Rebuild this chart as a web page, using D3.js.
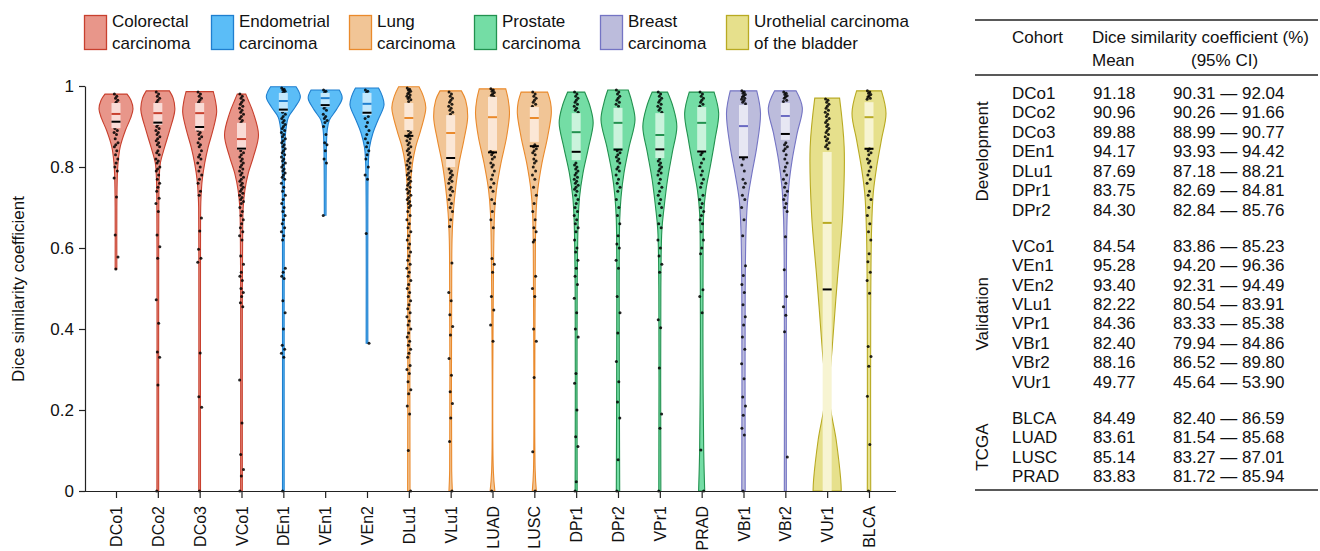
<!DOCTYPE html>
<html>
<head>
<meta charset="utf-8">
<script src="https://cdn.jsdelivr.net/npm/d3@7"></script>
<style>
body { margin: 0; background: #fff; }
svg text { font-family: "Liberation Sans", Arial, sans-serif; fill: #111; }
</style>
</head>
<body>
<div id="chart"></div>
<script>
/*
    Cohorts shown as violins, and the cancer type each belongs to
*/
var cohorts = ["DCo1", "DCo2", "DCo3", "VCo1", "DEn1", "VEn1", "VEn2", "DLu1", "VLu1", "LUAD",
    "LUSC", "DPr1", "DPr2", "VPr1", "PRAD", "VBr1", "VBr2", "VUr1", "BLCA"];
var cohortType = ["Co", "Co", "Co", "Co", "En", "En", "En", "Lu", "Lu", "Lu",
    "Lu", "Pr", "Pr", "Pr", "Pr", "Br", "Br", "Ur", "Ur"];

var typeKeys = ["Co", "En", "Lu", "Pr", "Br", "Ur"];
var typeNames = [["Colorectal", "carcinoma"], ["Endometrial", "carcinoma"], ["Lung", "carcinoma"],
    ["Prostate", "carcinoma"], ["Breast", "carcinoma"], ["Urothelial carcinoma", "of the bladder"]];

/*
*/
var q3 = [0.958, 0.958, 0.958, 0.909, 0.983, 0.983, 0.983, 0.958, 0.928, 0.973,
    0.948, 0.933, 0.946, 0.933, 0.948, 0.953, 0.958, 0.837, 0.960];
var q1 = [0.896, 0.904, 0.890, 0.842, 0.936, 0.948, 0.928, 0.891, 0.800, 0.842,
    0.862, 0.817, 0.847, 0.822, 0.837, 0.825, 0.867, 0.000, 0.849];
var medians = [0.931, 0.933, 0.933, 0.869, 0.963, 0.970, 0.956, 0.921, 0.884, 0.923,
    0.921, 0.886, 0.909, 0.879, 0.909, 0.901, 0.926, 0.662, 0.923];

/*
    Violin outlines: [value, relative half width]
*/
var shapeDCo1 = [[0.548, 0.05], [0.70, 0.05], [0.78, 0.08], [0.81, 0.12], [0.85, 0.25], [0.89, 0.55], [0.92, 0.85], [0.943, 1.0], [0.965, 0.88], [0.98, 0.65]];
var shapeDCo2 = [[0, 0.05], [0.60, 0.05], [0.72, 0.06], [0.768, 0.08], [0.81, 0.15], [0.849, 0.4], [0.891, 0.7], [0.941, 1.0], [0.97, 0.9], [0.988, 0.68]];
var shapeDCo3 = [[0, 0.05], [0.60, 0.05], [0.70, 0.06], [0.726, 0.08], [0.768, 0.15], [0.81, 0.3], [0.849, 0.5], [0.891, 0.78], [0.936, 1.0], [0.965, 0.92], [0.986, 0.8]];
var shapeVCo1 = [[0, 0.05], [0.50, 0.05], [0.65, 0.07], [0.70, 0.1], [0.743, 0.2], [0.785, 0.4], [0.825, 0.7], [0.879, 1.0], [0.933, 0.7], [0.965, 0.4], [0.98, 0.25]];
var shapeDEn1 = [[0, 0.05], [0.60, 0.05], [0.80, 0.06], [0.849, 0.08], [0.891, 0.15], [0.923, 0.3], [0.948, 0.7], [0.973, 1.0], [0.998, 0.75]];
var shapeVEn1 = [[0.681, 0.05], [0.80, 0.06], [0.86, 0.08], [0.891, 0.12], [0.916, 0.25], [0.941, 0.65], [0.970, 1.0], [0.99, 0.83]];
var shapeVEn2 = [[0.365, 0.05], [0.70, 0.05], [0.81, 0.08], [0.849, 0.15], [0.884, 0.35], [0.916, 0.65], [0.953, 1.0], [0.975, 0.9], [0.995, 0.68]];
var shapeDLu1 = [[0, 0.07], [0.50, 0.06], [0.70, 0.08], [0.768, 0.12], [0.81, 0.22], [0.849, 0.4], [0.891, 0.7], [0.946, 1.0], [0.975, 0.85], [0.998, 0.6]];
var shapeVLu1 = [[0, 0.1], [0.05, 0.06], [0.50, 0.06], [0.62, 0.08], [0.686, 0.15], [0.751, 0.3], [0.81, 0.5], [0.867, 0.78], [0.923, 1.0], [0.965, 0.88], [0.988, 0.63]];
var shapeLUAD = [[0, 0.14], [0.05, 0.05], [0.50, 0.05], [0.686, 0.12], [0.743, 0.23], [0.81, 0.5], [0.874, 0.83], [0.933, 1.0], [0.965, 0.93], [0.993, 0.78]];
var shapeLUSC = [[0, 0.12], [0.05, 0.05], [0.50, 0.05], [0.686, 0.1], [0.743, 0.2], [0.81, 0.45], [0.874, 0.78], [0.933, 1.0], [0.96, 0.95], [0.985, 0.78]];
var shapeDPr1 = [[0, 0.06], [0.50, 0.06], [0.669, 0.12], [0.726, 0.2], [0.785, 0.4], [0.849, 0.73], [0.909, 1.0], [0.948, 0.83], [0.985, 0.5]];
var shapeDPr2 = [[0, 0.1], [0.50, 0.07], [0.669, 0.1], [0.726, 0.18], [0.785, 0.35], [0.849, 0.65], [0.916, 1.0], [0.958, 0.83], [0.99, 0.6]];
var shapeVPr1 = [[0, 0.06], [0.50, 0.06], [0.644, 0.12], [0.70, 0.25], [0.768, 0.45], [0.835, 0.73], [0.90, 1.0], [0.948, 0.78], [0.985, 0.45]];
var shapePRAD = [[0, 0.18], [0.10, 0.12], [0.30, 0.08], [0.52, 0.08], [0.686, 0.12], [0.743, 0.25], [0.80, 0.5], [0.867, 0.78], [0.933, 1.0], [0.985, 0.73]];
var shapeVBr1 = [[0, 0.1], [0.50, 0.1], [0.644, 0.15], [0.719, 0.25], [0.785, 0.5], [0.849, 0.78], [0.933, 1.0], [0.988, 0.78]];
var shapeVBr2 = [[0, 0.06], [0.50, 0.06], [0.669, 0.1], [0.751, 0.2], [0.817, 0.4], [0.884, 0.7], [0.946, 1.0], [0.988, 0.63]];
var shapeVUr1 = [[0, 0.83], [0.027, 0.8], [0.126, 0.53], [0.232, 0.12], [0.356, 0.3], [0.521, 0.6], [0.686, 0.92], [0.849, 1.0], [0.97, 0.73]];
var shapeBLCA = [[0, 0.1], [0.44, 0.1], [0.644, 0.15], [0.735, 0.25], [0.80, 0.45], [0.867, 0.73], [0.933, 1.0], [0.988, 0.73]];

/*
    Individual slide scores (%)
*/
var ptsDCo1 = [98, 97.5, 97, 96.5, 96, 95.5, 95, 94.5, 94, 93.5, 93, 92.5, 92, 91.5, 91, 90.5, 90, 89.5, 89, 88.5, 88, 87, 86, 85.5, 85, 84, 83, 82, 81, 80, 79, 77.3, 72.6, 63.2, 57.8, 54.8];
var ptsDCo2 = [98.5, 98, 97.5, 97, 96.5, 96, 95.5, 95, 94.5, 94, 93.5, 93, 92.5, 92, 91.5, 91, 90.5, 90, 89.5, 89, 88.5, 88, 87.5, 87, 86.5, 86, 85.5, 85, 84, 83.5, 83, 82, 81.5, 81, 80, 79.5, 79, 78, 77, 76, 75, 74, 72.3, 71, 69, 63.2, 60.3, 57.5, 47.2, 41.4, 34.3, 33, 26.2, 0];
var ptsDCo3 = [98.5, 98, 97.5, 97, 96.5, 96, 95.5, 95, 94.5, 94, 93.5, 93, 92.5, 92, 91.5, 91, 90.5, 90, 89.5, 89, 88.5, 88, 87.5, 87, 86, 85.5, 85, 84, 83, 82.5, 82, 81, 80, 79, 78, 77, 76, 74, 73, 67.4, 64.2, 59.7, 57.5, 56.5, 34.1, 23.3, 20.7, 0];
var ptsVCo1 = [98, 97.5, 97, 96.5, 96, 95.5, 95, 94.5, 94, 93.5, 93, 92.5, 92, 91.5, 91, 90, 89, 88, 87, 86, 85, 84, 83.5, 83, 82.5, 82, 81.5, 81, 80.5, 80, 79.5, 79, 78.5, 78, 77.5, 77, 76.5, 76, 75.5, 75, 74.5, 74, 73.5, 73, 72.5, 72, 71.5, 71, 70, 69, 68, 67, 66, 65, 64, 63, 62, 58, 56, 54, 53, 52, 50, 49, 48, 46.5, 45.5, 27.4, 16.8, 9, 5.3, 3.7, 0];
var ptsDEn1 = [99.5, 99.2, 99, 98.7, 98.4, 98.1, 96, 95, 94, 93.5, 93, 92.5, 92, 91.5, 91, 90.5, 90, 89.5, 89, 88.5, 88, 87.5, 87, 86.5, 86, 85.5, 85, 84.5, 84, 83.5, 83, 82.5, 82, 81.5, 81, 80.5, 80, 79.5, 79, 78.5, 78, 77.5, 77, 76, 75, 74, 73, 72, 71, 70, 69, 68, 67, 66, 65, 64, 63, 62, 55, 54, 53, 52.5, 47, 44, 40, 36, 35, 34, 33, 0];
var ptsVEn1 = [99, 98.7, 98.4, 96, 95, 94.5, 94, 93, 92.5, 92, 91.5, 91, 90, 88, 86, 85.5, 84, 82, 81, 68];
var ptsVEn2 = [99, 98.7, 98.4, 96, 95, 94, 92.5, 92, 91, 90, 89, 88, 87, 86, 85, 84, 83, 82, 80, 78, 77, 63.6, 36.5];
var ptsDLu1 = [99.5, 99.2, 99, 98.7, 98.4, 98.1, 97.8, 97.5, 97.2, 96.9, 96.6, 96.2, 93, 91, 89, 88.5, 88, 87.5, 87, 86.5, 86, 85.5, 85, 84.5, 84, 83.5, 83, 82.5, 82, 81.5, 81, 80.5, 80, 79.5, 79, 78.5, 78, 77.5, 77, 76.5, 76, 75.5, 75, 74.5, 74, 73.5, 73, 72.5, 72, 71.5, 71, 70.5, 70, 69, 68, 67, 66, 65, 64, 63, 62, 61, 60, 59, 58, 57, 56, 55, 54, 53, 52, 51, 50, 49, 48, 47, 46, 45, 44, 43, 42, 41, 40, 39, 38, 37, 36, 35, 34, 33, 31, 30, 29, 27, 25, 24, 21, 19, 10, 0];
var ptsVLu1 = [98.5, 98, 97.5, 97, 96.5, 96, 95.5, 95, 94.5, 94, 93.5, 93, 79.5, 79, 78.5, 78, 77.5, 77, 76.5, 76, 75, 74.5, 74, 73, 72, 71, 70, 69, 67, 65.3, 56.3, 49, 47, 43.5, 40.6, 38.5, 32.7, 28.6, 24.5, 21.6, 18, 12.2, 0];
var ptsLUAD = [99.3, 99, 98.7, 98.4, 98, 97.7, 97.4, 83.8, 83.5, 83, 82.5, 82, 81, 80.5, 80, 79, 78, 77, 76, 75, 74, 72, 71, 69, 67, 65, 57.4, 56, 54, 48, 44.7, 41, 37, 0];
var ptsLUSC = [98.5, 98, 97.5, 97, 96.5, 96, 95.5, 95, 85.5, 85, 84.5, 84, 83.5, 83, 82, 81.5, 81, 80, 79, 78, 77, 75, 73, 71, 69, 67, 65, 64, 62, 61.5, 53, 50, 48, 40, 37, 28, 9.7, 0];
var ptsDPr1 = [98.5, 98, 97.5, 97, 96.5, 96, 95.5, 95, 94.5, 94, 93.5, 81, 80.5, 80, 79.5, 79, 78.5, 78, 77.5, 77, 76.5, 76, 75.5, 75, 74.5, 74, 73, 72, 71, 70, 69, 68, 67, 66, 65, 64, 62, 60, 59, 57, 55, 53, 51, 47.6, 44, 40, 38, 29, 26.6, 20, 13.4, 11, 2.3, 0];
var ptsDPr2 = [99, 98.5, 98, 97.5, 97, 96.5, 96, 95.5, 95, 84, 83.5, 83, 82.5, 82, 81.5, 81, 80, 79.5, 79, 78, 77, 76, 75, 74, 72, 70, 68, 66, 63, 61, 60, 57, 55, 48, 44, 39, 32, 27, 22, 18, 7.7, 0];
var ptsVPr1 = [98.5, 98, 97.5, 97, 96.5, 96, 95.5, 95, 94.5, 94, 93.5, 82, 81.5, 81, 80.5, 80, 79.5, 79, 78.5, 78, 77, 76, 75, 74, 73, 72, 71, 70, 68, 66, 65, 62, 60, 58, 56, 54, 42.3, 40.3, 30.4, 19, 15.5, 0];
var ptsPRAD = [98.5, 98, 97.5, 97, 96.5, 96, 95.5, 95, 83.5, 83, 82, 81, 80, 79, 78, 77, 76, 75, 73, 72, 71, 70, 69, 68, 67, 66, 64, 62, 60, 58.6, 49.7, 48, 44, 10.1, 0];
var ptsVBr1 = [98.8, 98.5, 98.2, 97.9, 97.6, 97.3, 97, 96.7, 96.4, 96, 95.6, 82, 80.5, 79, 77, 76, 75, 73, 72, 70, 67, 63, 55.6, 53.2, 51, 49, 46, 43, 41, 38, 35, 31.4, 27.7, 23.2, 21, 18.7, 15.5, 13.8, 0];
var ptsVBr2 = [98.5, 98.2, 97.9, 97.6, 97.3, 97, 96.5, 96.2, 86, 85.5, 85, 84.5, 84, 83, 82, 81, 80, 79, 78, 77, 76, 75, 74, 73, 72, 71, 70, 69, 62.8, 54.6, 48, 45.5, 43.4, 39.3, 8.4];
var ptsVUr1 = [96.8, 96.5, 96, 95.5, 95, 94.5, 94, 93.5, 93, 92.5, 92, 91.5, 91, 90.5, 90, 89.5, 89, 88.5, 88, 87.5, 87, 86.5, 86, 85.5, 85, 84.5];
var ptsBLCA = [98.8, 98.5, 98.2, 97.9, 97.6, 97.3, 97, 96.7, 84.5, 84, 83.5, 83, 82, 81.5, 81, 80, 79, 78, 77, 76, 74, 73, 72, 70, 68, 66, 64, 62, 58.6, 56.6, 54, 52, 48.8, 35.7, 33.2, 30.8, 23.4, 11.5, 0];

var shapes = [shapeDCo1, shapeDCo2, shapeDCo3, shapeVCo1, shapeDEn1, shapeVEn1, shapeVEn2, shapeDLu1, shapeVLu1, shapeLUAD,
    shapeLUSC, shapeDPr1, shapeDPr2, shapeVPr1, shapePRAD, shapeVBr1, shapeVBr2, shapeVUr1, shapeBLCA];
var points = [ptsDCo1, ptsDCo2, ptsDCo3, ptsVCo1, ptsDEn1, ptsVEn1, ptsVEn2, ptsDLu1, ptsVLu1, ptsLUAD,
    ptsLUSC, ptsDPr1, ptsDPr2, ptsVPr1, ptsPRAD, ptsVBr1, ptsVBr2, ptsVUr1, ptsBLCA];

/*
    Table on the right: cohort, mean and 95% CI (%)
*/
var groupNames = ["Development", "Validation", "TCGA"];
var groupCohorts = [
    ["DCo1", "DCo2", "DCo3", "DEn1", "DLu1", "DPr1", "DPr2"],
    ["VCo1", "VEn1", "VEn2", "VLu1", "VPr1", "VBr1", "VBr2", "VUr1"],
    ["BLCA", "LUAD", "LUSC", "PRAD"]
];
var groupMeans = [
    [91.18, 90.96, 89.88, 94.17, 87.69, 83.75, 84.30],
    [84.54, 95.28, 93.40, 82.22, 84.36, 82.40, 88.16, 49.77],
    [84.49, 83.61, 85.14, 83.83]
];
var groupCiLow = [
    [90.31, 90.26, 88.99, 93.93, 87.18, 82.69, 82.84],
    [83.86, 94.20, 92.31, 80.54, 83.33, 79.94, 86.52, 45.64],
    [82.40, 81.54, 83.27, 81.72]
];
var groupCiHigh = [
    [92.04, 91.66, 90.77, 94.42, 88.21, 84.81, 85.76],
    [85.23, 96.36, 94.49, 83.91, 85.38, 84.86, 89.80, 53.90],
    [86.59, 85.68, 87.01, 85.94]
];

var yTicks = [0, 0.2, 0.4, 0.6, 0.8, 1];

/*
    Colours per cancer type
*/
var palette = {
    Co: { fill: "#e8968a", stroke: "#c8402e", box: "#f9dbd6", med: "#c8402e" },
    En: { fill: "#5bbdf7", stroke: "#1f7fcf", box: "#c3e8fc", med: "#1f7fcf" },
    Lu: { fill: "#f1c596", stroke: "#ea8a2c", box: "#fbe7d6", med: "#ea8a2c" },
    Pr: { fill: "#74dda5", stroke: "#22914f", box: "#caf3dc", med: "#22914f" },
    Br: { fill: "#bcbcdc", stroke: "#7474c4", box: "#e7e7f3", med: "#6a6ac2" },
    Ur: { fill: "#e6e08c", stroke: "#b8aa22", box: "#f7f4d2", med: "#b8aa22" }
};

/*
    Mean of each violin is taken from the table
*/
var meanOf = {};
groupCohorts.forEach(function (g, gi) {
    g.forEach(function (c, i) { meanOf[c] = groupMeans[gi][i] / 100; });
});

var svg = d3.select("#chart").append("svg")
    .attr("width", 1320)
    .attr("height", 551);

svg.append("rect").attr("width", 1320).attr("height", 551).attr("fill", "#fff");

var x = d3.scalePoint().domain(cohorts).range([116, 869]);
var y = d3.scaleLinear().domain([0, 1]).range([491, 86]);
var halfW = d3.scaleLinear().domain([0, 1]).range([0, 17]);
var boxHalf = 4.5;
var jitter = [-1.6, 0.8, -0.5, 1.8, 0.1, -1.1, 1.3, -1.9, 0.5, -0.8, 2, -0.2];

/*
    Violins
*/
var plot = svg.append("g").attr("id", "violins");

cohorts.forEach(function (c, i) {
    var cx = x(c),
        col = palette[cohortType[i]];
    var area = d3.area()
        .y(function (d) { return y(d[0]); })
        .x0(function (d) { return cx - halfW(d[1]); })
        .x1(function (d) { return cx + halfW(d[1]); })
        .curve(d3.curveCatmullRom.alpha(0.5));

    var g = plot.append("g");
    g.append("path")
        .attr("d", area(shapes[i]))
        .attr("fill", col.fill)
        .attr("stroke", col.stroke)
        .attr("stroke-width", 1.1);

    g.selectAll("circle")
        .data(points[i])
        .enter()
        .append("circle")
        .attr("cx", function (d, k) { return cx + jitter[k % jitter.length]; })
        .attr("cy", function (d) { return y(d / 100); })
        .attr("r", 1.5)
        .attr("fill", "#000")
        .attr("fill-opacity", 0.85);

    g.append("rect")
        .attr("x", cx - boxHalf)
        .attr("width", boxHalf * 2)
        .attr("y", y(q3[i]))
        .attr("height", y(q1[i]) - y(q3[i]))
        .attr("fill", col.box);

    g.append("line")
        .attr("x1", cx - boxHalf).attr("x2", cx + boxHalf)
        .attr("y1", y(medians[i])).attr("y2", y(medians[i]))
        .attr("stroke", col.med)
        .attr("stroke-width", 2);

    g.append("line")
        .attr("x1", cx - boxHalf).attr("x2", cx + boxHalf)
        .attr("y1", y(meanOf[c])).attr("y2", y(meanOf[c]))
        .attr("stroke", "#000")
        .attr("stroke-width", 2);
});

/*
    Axes
*/
var yAxis = svg.append("g")
    .attr("transform", "translate(85,0)")
    .call(d3.axisLeft(y).tickValues(yTicks).tickFormat(d3.format("~g")).tickSize(6).tickSizeOuter(0));
yAxis.selectAll("text").style("font-size", "17px").attr("x", -11);

var xAxis = svg.append("g")
    .attr("transform", "translate(0,491)")
    .call(d3.axisBottom(x).tickSize(7).tickSizeOuter(0));
xAxis.select(".domain").attr("d", "M85,0.5H896");
xAxis.selectAll("text")
    .style("font-size", "16px")
    .style("text-anchor", "end")
    .attr("transform", "rotate(-90)")
    .attr("x", -15)
    .attr("y", 0)
    .attr("dy", "0.35em");

svg.selectAll(".domain, .tick line").attr("stroke", "#222").attr("stroke-width", 1.2);

svg.append("text")
    .attr("transform", "translate(24,289) rotate(-90)")
    .style("text-anchor", "middle")
    .style("font-size", "17px")
    .text("Dice similarity coefficient");

/*
    Legend
*/
var legendX = [84, 211, 349, 474, 600, 726];
var legend = svg.append("g").attr("id", "legend");
typeKeys.forEach(function (k, i) {
    var lg = legend.append("g").attr("transform", "translate(" + legendX[i] + ",0)");
    lg.append("rect")
        .attr("x", 0.5).attr("y", 15.5)
        .attr("width", 22).attr("height", 34)
        .attr("fill", palette[k].fill)
        .attr("stroke", palette[k].stroke)
        .attr("stroke-width", 1.3);
    lg.append("text").attr("x", 28).attr("y", 27).style("font-size", "17px").text(typeNames[i][0]);
    lg.append("text").attr("x", 28).attr("y", 49).style("font-size", "17px").text(typeNames[i][1]);
});

/*
    Table
*/
var tbl = svg.append("g").attr("id", "table").style("font-size", "17px");
var tLeft = 975, tRight = 1318;
[20, 75, 490].forEach(function (ly) {
    tbl.append("line")
        .attr("x1", tLeft).attr("x2", tRight)
        .attr("y1", ly).attr("y2", ly)
        .attr("stroke", "#222").attr("stroke-width", 1.3);
});
tbl.append("text").attr("x", 1012).attr("y", 43).text("Cohort");
tbl.append("text").attr("x", 1092).attr("y", 43).text("Dice similarity coefficient (%)");
tbl.append("text").attr("x", 1092).attr("y", 66).text("Mean");
tbl.append("text").attr("x", 1191).attr("y", 66).text("(95% CI)");

var rowStep = 19.45, rowY = 93;
groupCohorts.forEach(function (g, gi) {
    var first = rowY;
    g.forEach(function (c, i) {
        tbl.append("text").attr("x", 1012).attr("y", rowY).attr("dy", "0.35em").text(c);
        tbl.append("text").attr("x", 1093).attr("y", rowY).attr("dy", "0.35em").text(groupMeans[gi][i].toFixed(2));
        tbl.append("text").attr("x", 1173).attr("y", rowY).attr("dy", "0.35em")
            .text(groupCiLow[gi][i].toFixed(2) + " \u2014 " + groupCiHigh[gi][i].toFixed(2));
        if (i < g.length - 1) rowY += rowStep;
    });
    tbl.append("text")
        .attr("transform", "translate(988," + ((first + rowY) / 2) + ") rotate(-90)")
        .style("text-anchor", "middle")
        .text(groupNames[gi]);
    rowY += 36;
});
</script>
</body>
</html>
